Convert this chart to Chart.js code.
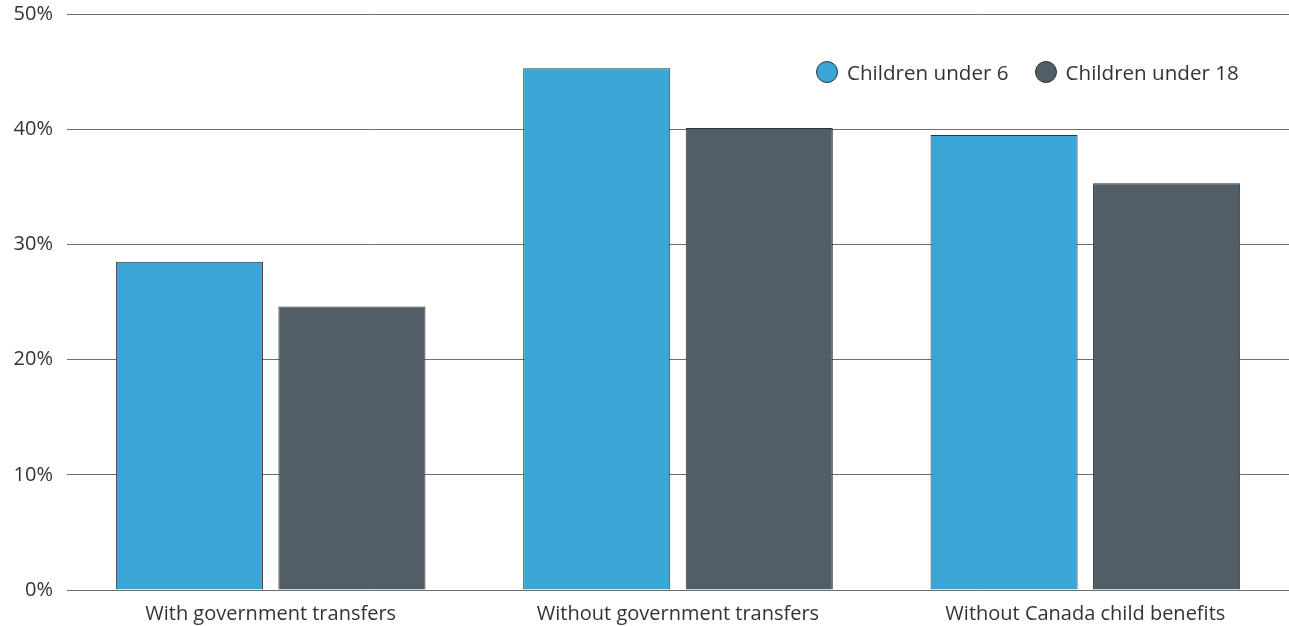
<!DOCTYPE html>
<html>
<head>
<meta charset="utf-8">
<script src="https://cdn.jsdelivr.net/npm/chart.js@4"></script>
<style>
  html, body { margin: 0; padding: 0; background: #fff; }
  #wrap { position: relative; width: 1289px; height: 626px; }
  #legend { position: absolute; left: 816px; top: 61px; display: flex; align-items: center;
    font-family: "Open Sans", sans-serif; font-size: 20.6px; color: #333; line-height: 22px; }
  .item { display: flex; align-items: center; margin-right: 26px; }
  .dot { width: 22px; height: 22px; border-radius: 50%; border: 1px solid #333; margin-right: 9px; box-sizing: border-box; }
</style>
</head>
<body>
<div id="wrap">
  <canvas id="c" width="1289" height="626"></canvas>
  <div id="legend"></div>
</div>
<script>
const categories = ["With government transfers", "Without government transfers", "Without Canada child benefits"];
const seriesNames = ["Children under 6", "Children under 18"];
const under6 = [28.5, 45.3, 39.5];
const under18 = [24.6, 40.1, 35.3];
const yTicks = [0, 10, 20, 30, 40, 50];
const colors = ["#38A7D6", "#515E67"];

const legend = document.getElementById('legend');
seriesNames.forEach((n, i) => {
  const it = document.createElement('div'); it.className = 'item';
  const d = document.createElement('span'); d.className = 'dot'; d.style.background = colors[i];
  const t = document.createElement('span'); t.textContent = n;
  it.appendChild(d); it.appendChild(t); legend.appendChild(it);
});

const font = { family: '"Open Sans", sans-serif', size: 20 };
new Chart(document.getElementById('c'), {
  type: 'bar',
  data: {
    labels: categories,
    datasets: [
      { label: seriesNames[0], data: under6, backgroundColor: colors[0], borderColor: "#333", borderWidth: 1 },
      { label: seriesNames[1], data: under18, backgroundColor: colors[1], borderColor: "#333", borderWidth: 1 }
    ]
  },
  options: {
    responsive: false,
    animation: false,
    devicePixelRatio: 1,
    layout: { padding: { top: 14, right: 0, left: 0, bottom: 0 } },
    datasets: { bar: { categoryPercentage: 0.798, barPercentage: 0.905 } },
    plugins: { legend: { display: false }, tooltip: { enabled: false } },
    scales: {
      x: {
        grid: { display: false },
        border: { display: false },
        ticks: { font: font, color: '#333', padding: 4, maxRotation: 0 },
        afterFit: s => { s.height = 36; s.paddingLeft = 0; s.paddingRight = 0; }
      },
      y: {
        min: 0, max: 50,
        afterBuildTicks: s => { s.ticks = yTicks.map(v => ({ value: v })); },
        grid: { color: '#6f6f6f', lineWidth: 1, drawTicks: false },
        border: { display: false },
        ticks: { font: font, color: '#333', padding: 14, callback: v => v + '%' },
        afterFit: s => { s.width = 67; s.paddingTop = 0; s.paddingBottom = 0; }
      }
    }
  }
});
</script>
</body>
</html>
